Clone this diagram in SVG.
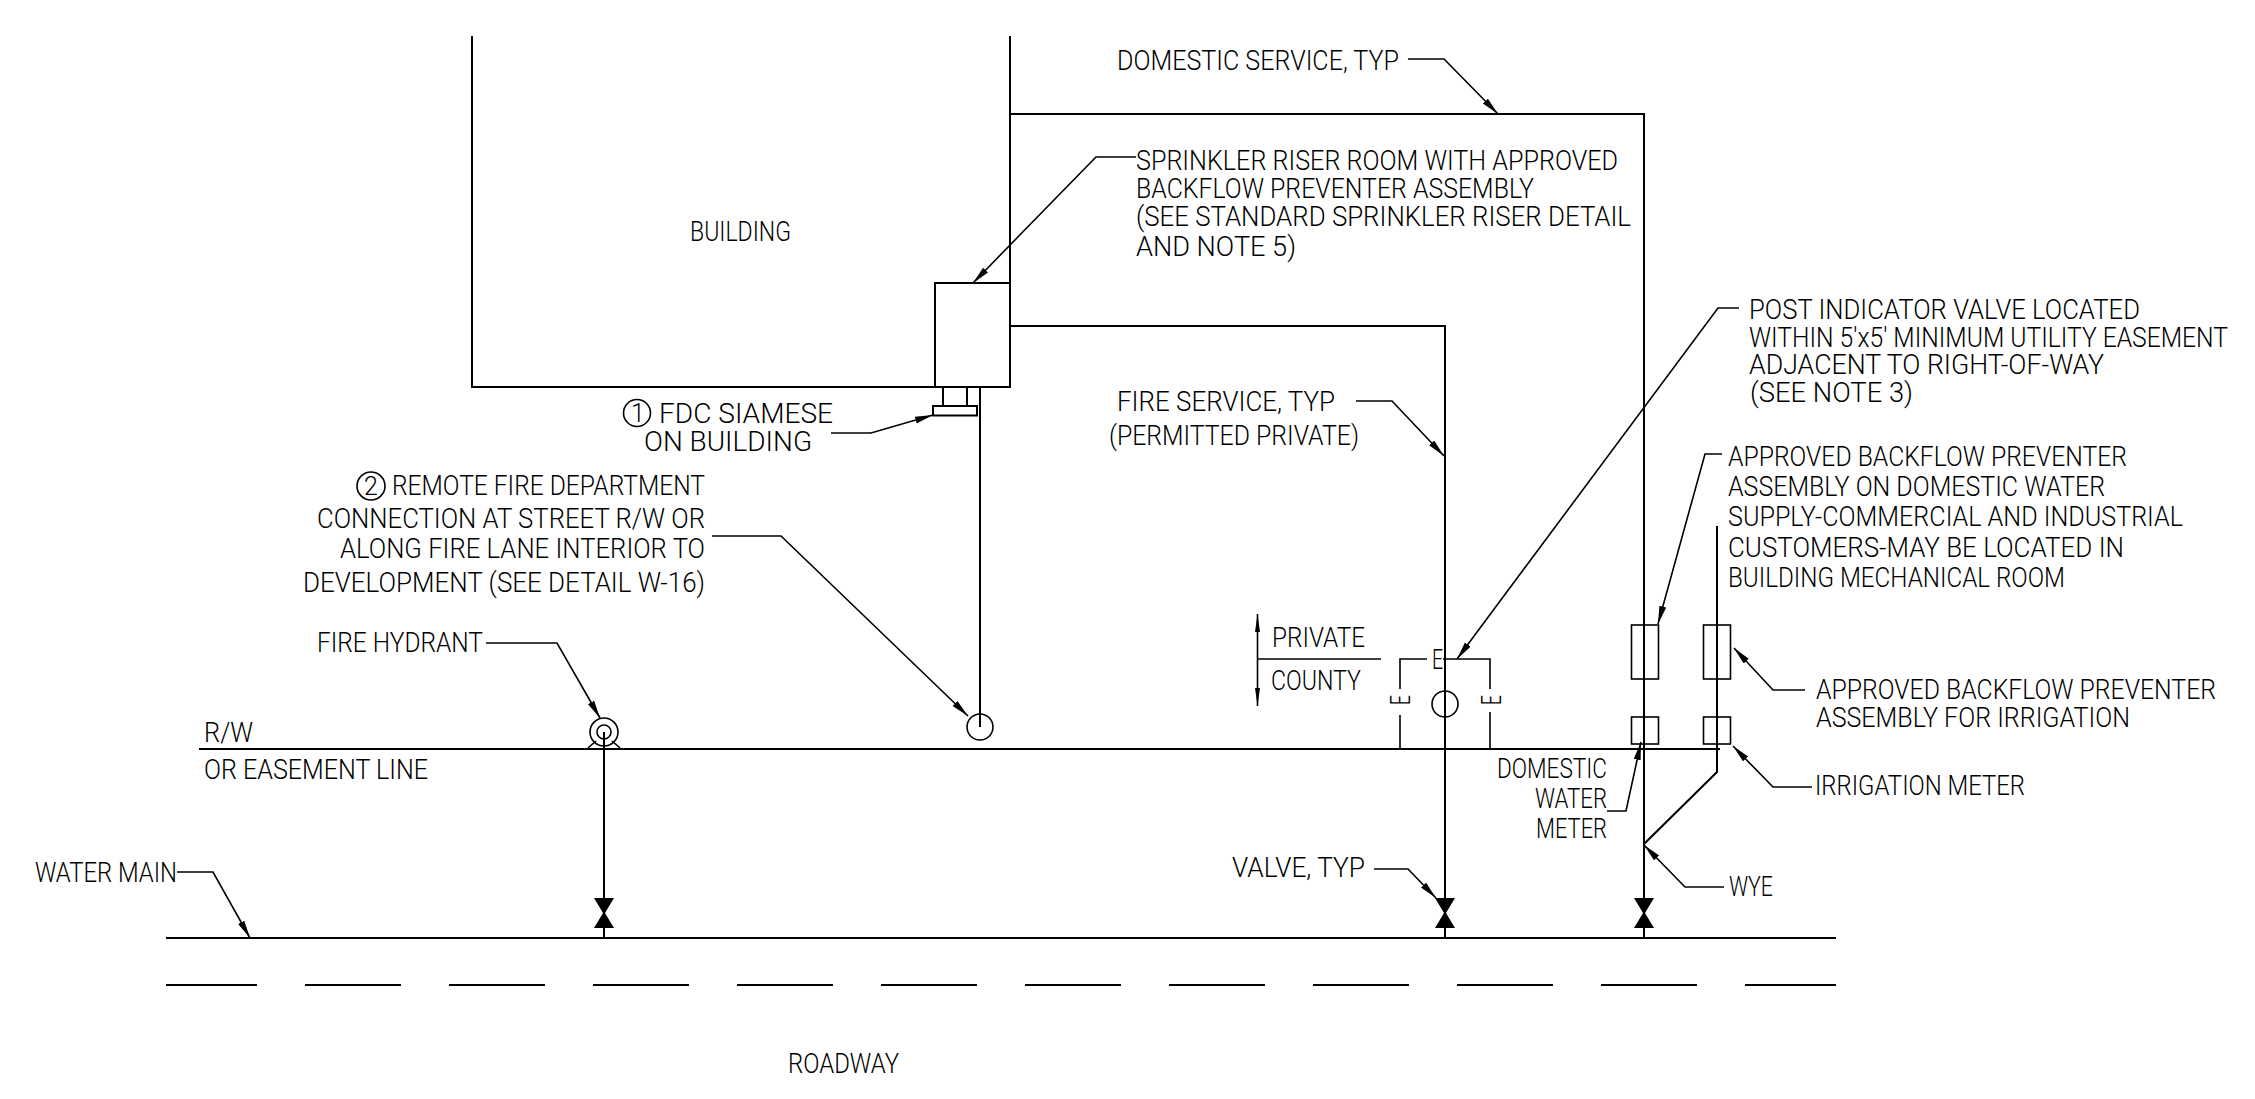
<svg xmlns="http://www.w3.org/2000/svg" width="2255" height="1099" viewBox="0 0 2255 1099">
<style>
text{font-family:"Roboto","Liberation Sans",sans-serif;font-weight:300;font-size:28px;fill:#000}
.p{fill:none;stroke:#000;stroke-width:2}
.l{fill:none;stroke:#000;stroke-width:1.6;marker-end:url(#a)}
.w{fill:#fff;stroke:#000;stroke-width:2}
.c{fill:none;stroke:#000;stroke-width:1.6}
.v{fill:#000;stroke:none}
</style>
<defs>
<marker id="a" markerUnits="userSpaceOnUse" markerWidth="20" markerHeight="8" refX="18" refY="3.5" orient="auto"><path d="M0 0L18 3.5L0 7z" fill="#000"/></marker>
<path id="valve" d="M-10 0H10L1 15L10 30H-10L-1 15z"/>
</defs>
<rect width="2255" height="1099" fill="#fff"/>
<g id="connectors">
<path class="p" d="M1010 114H1644V938M1010 326H1445V938M604 732V938M980 387V727M1717 526V772L1644 844"/>
<path class="l" d="M1408 59H1444L1498 114"/>
<path class="l" d="M1136 157H1096L973 283"/>
<path class="l" d="M831 433H871L933 415"/>
<path class="l" d="M712 536H781L968 716"/>
<path class="l" d="M486 643H557L600 718"/>
<path class="l" d="M177 872H213L250 938"/>
<path class="l" d="M1356 401H1392L1444 456"/>
<path class="l" d="M1739 308H1718L1457 659"/>
<path class="l" d="M1722 454H1705L1658 624"/>
<path class="l" d="M1805 690H1773L1734 648"/>
<path class="l" d="M1812 787H1773L1733 746"/>
<path class="l" d="M1607 811H1626L1641 742"/>
<path class="l" d="M1724 887H1685L1644 845"/>
<path class="l" d="M1374 869H1408L1436 898"/>
</g>
<g id="building"><path class="p" d="M472 36V387H1010V36"/><text x="690" y="241" textLength="101" lengthAdjust="spacingAndGlyphs">BUILDING</text></g>
<g id="riser-room"><path class="p" d="M935 387V283H1010"/></g>
<g id="fdc-siamese"><rect class="w" x="943" y="387" width="24" height="19"/><rect class="w" x="933" y="406" width="44" height="9.500"/>
<text x="659" y="423" textLength="174" lengthAdjust="spacingAndGlyphs">FDC SIAMESE</text><text x="644" y="451" textLength="168" lengthAdjust="spacingAndGlyphs">ON BUILDING</text>
<circle class="c" cx="637" cy="413" r="13.500"/><text x="631" y="422" style="font-size:25px">1</text></g>
<g id="remote-fdc"><circle class="c" cx="980" cy="727" r="13"/>
<circle class="c" cx="371" cy="486" r="14"/><text x="364" y="495" style="font-size:25px">2</text>
<text x="392" y="495" textLength="313" lengthAdjust="spacingAndGlyphs">REMOTE FIRE DEPARTMENT</text>
<text x="317" y="528" textLength="388" lengthAdjust="spacingAndGlyphs">CONNECTION AT STREET R/W OR</text>
<text x="340" y="558" textLength="365" lengthAdjust="spacingAndGlyphs">ALONG FIRE LANE INTERIOR TO</text>
<text x="303" y="592" textLength="402" lengthAdjust="spacingAndGlyphs">DEVELOPMENT (SEE DETAIL W-16)</text></g>
<g id="hydrant"><circle class="c" cx="604" cy="732" r="14"/><circle class="c" cx="604" cy="732" r="7"/><path class="c" d="M588 748L596 741M620 748L612 741"/>
<text x="317" y="652" textLength="166" lengthAdjust="spacingAndGlyphs">FIRE HYDRANT</text></g>
<g id="row-line"><path class="p" d="M199 749H1720"/>
<text x="204" y="742" textLength="49" lengthAdjust="spacingAndGlyphs">R/W</text><text x="204" y="779" textLength="224" lengthAdjust="spacingAndGlyphs">OR EASEMENT LINE</text></g>
<g id="water-main"><path class="p" d="M166 938H1836"/><path class="p" d="M166 985H257M305 985H401M449 985H545M593 985H689M737 985H833M881 985H977M1025 985H1121M1169 985H1265M1313 985H1409M1457 985H1553M1601 985H1697M1745 985H1836"/>
<text x="35" y="882" textLength="142" lengthAdjust="spacingAndGlyphs">WATER MAIN</text></g>
<g id="valves"><use class="v" href="#valve" x="604" y="898"/><use class="v" href="#valve" x="1445" y="898"/><use class="v" href="#valve" x="1644" y="898"/></g>
<g id="private-county"><path class="c" d="M1257.500 659H1381"/><path class="c" d="M1257.500 659V614M1257.500 659V706"/><path class="v" d="M1257.500 614L1260 632H1255zM1257.500 706L1260 688H1255z"/>
<text x="1272" y="647" textLength="93" lengthAdjust="spacingAndGlyphs">PRIVATE</text><text x="1271" y="690" textLength="90" lengthAdjust="spacingAndGlyphs">COUNTY</text></g>
<g id="piv"><circle class="c" cx="1445" cy="704" r="13"/>
<path class="c" d="M1400 689V659H1427M1443 659H1490V689M1400 715V749M1490 712V749"/>
<text x="1432" y="669" textLength="11" lengthAdjust="spacingAndGlyphs">E</text>
<text transform="translate(1410 705) rotate(-90)" textLength="10" lengthAdjust="spacingAndGlyphs">E</text>
<text transform="translate(1501 705) rotate(-90)" textLength="10" lengthAdjust="spacingAndGlyphs">E</text>
<text x="1749" y="319" textLength="391" lengthAdjust="spacingAndGlyphs">POST INDICATOR VALVE LOCATED</text>
<text x="1749" y="347" textLength="479" lengthAdjust="spacingAndGlyphs">WITHIN 5'x5' MINIMUM UTILITY EASEMENT</text>
<text x="1749" y="374" textLength="355" lengthAdjust="spacingAndGlyphs">ADJACENT TO RIGHT-OF-WAY</text>
<text x="1750" y="402" textLength="163" lengthAdjust="spacingAndGlyphs">(SEE NOTE 3)</text></g>
<g id="domestic-bfp"><rect class="c" x="1631.500" y="625" width="27" height="54"/><rect class="c" x="1631.500" y="717" width="27" height="27"/>
<text x="1728" y="466" textLength="399" lengthAdjust="spacingAndGlyphs">APPROVED BACKFLOW PREVENTER</text>
<text x="1728" y="496" textLength="377" lengthAdjust="spacingAndGlyphs">ASSEMBLY ON DOMESTIC WATER</text>
<text x="1728" y="526" textLength="455" lengthAdjust="spacingAndGlyphs">SUPPLY-COMMERCIAL AND INDUSTRIAL</text>
<text x="1728" y="557" textLength="396" lengthAdjust="spacingAndGlyphs">CUSTOMERS-MAY BE LOCATED IN</text>
<text x="1728" y="587" textLength="337" lengthAdjust="spacingAndGlyphs">BUILDING MECHANICAL ROOM</text>
<text x="1497" y="778" textLength="110" lengthAdjust="spacingAndGlyphs">DOMESTIC</text><text x="1535" y="808" textLength="72" lengthAdjust="spacingAndGlyphs">WATER</text><text x="1536" y="838" textLength="71" lengthAdjust="spacingAndGlyphs">METER</text></g>
<g id="irrigation-bfp"><rect class="c" x="1703.500" y="625" width="27" height="54"/><rect class="c" x="1703.500" y="717" width="27" height="27"/>
<text x="1816" y="699" textLength="400" lengthAdjust="spacingAndGlyphs">APPROVED BACKFLOW PREVENTER</text>
<text x="1816" y="727" textLength="314" lengthAdjust="spacingAndGlyphs">ASSEMBLY FOR IRRIGATION</text>
<text x="1815" y="795" textLength="210" lengthAdjust="spacingAndGlyphs">IRRIGATION METER</text></g>
<g id="labels">
<text x="1117" y="70" textLength="282" lengthAdjust="spacingAndGlyphs">DOMESTIC SERVICE, TYP</text>
<text x="1136" y="170" textLength="482" lengthAdjust="spacingAndGlyphs">SPRINKLER RISER ROOM WITH APPROVED</text>
<text x="1136" y="198" textLength="398" lengthAdjust="spacingAndGlyphs">BACKFLOW PREVENTER ASSEMBLY</text>
<text x="1136" y="226" textLength="495" lengthAdjust="spacingAndGlyphs">(SEE STANDARD SPRINKLER RISER DETAIL</text>
<text x="1136" y="256" textLength="160" lengthAdjust="spacingAndGlyphs">AND NOTE 5)</text>
<text x="1117" y="411" textLength="218" lengthAdjust="spacingAndGlyphs">FIRE SERVICE, TYP</text>
<text x="1109" y="445" textLength="250" lengthAdjust="spacingAndGlyphs">(PERMITTED PRIVATE)</text>
<text x="1232" y="877" textLength="133" lengthAdjust="spacingAndGlyphs">VALVE, TYP</text>
<text x="1729" y="896" textLength="44" lengthAdjust="spacingAndGlyphs">WYE</text>
<text x="788" y="1073" textLength="111" lengthAdjust="spacingAndGlyphs">ROADWAY</text>
</g>
</svg>
